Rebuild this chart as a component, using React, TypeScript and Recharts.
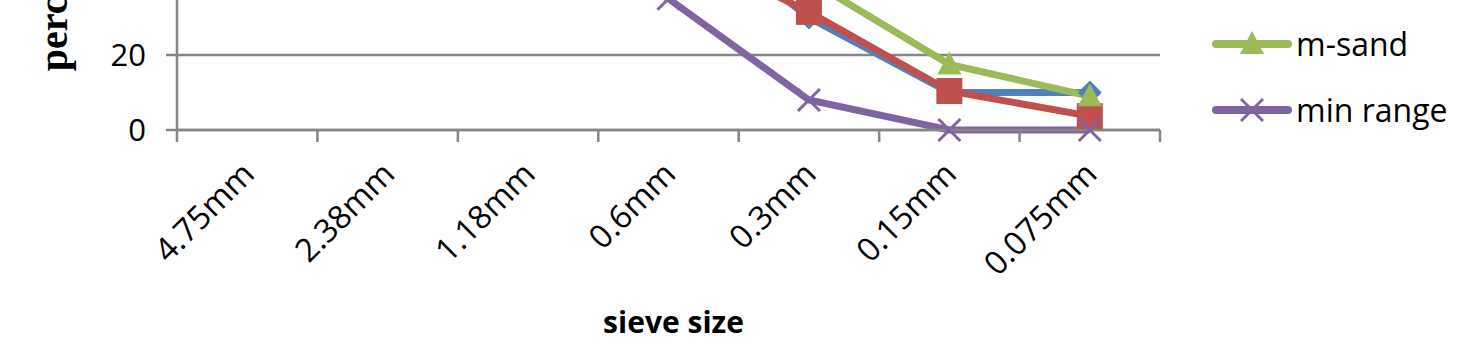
import React from 'react';
import { LineChart, Line, XAxis, YAxis, CartesianGrid, Legend } from 'recharts';

const categories = ['4.75mm', '2.38mm', '1.18mm', '0.6mm', '0.3mm', '0.15mm', '0.075mm'];
const maxRange = [100, 100, 90, 59, 30, 10, 10];
const riverSand = [100, 96, 78, 50, 31.5, 10.4, 3.7];
const mSand = [100, 97, 82, 62, 40, 17.5, 9];
const minRange = [90, 75, 55, 35, 8, 0, 0];
const yTicks = [0, 20, 40, 60, 80, 100, 120];

const seriesList = [
  { key: 'maxRange', name: 'max range', color: '#4F81BD', shape: 'diamond' },
  { key: 'riverSand', name: 'river sand', color: '#C0504D', shape: 'square' },
  { key: 'mSand', name: 'm-sand', color: '#9BBB59', shape: 'triangle' },
  { key: 'minRange', name: 'min range', color: '#8064A2', shape: 'x' },
];

const data = categories.map((name, i) => ({
  name,
  maxRange: maxRange[i],
  riverSand: riverSand[i],
  mSand: mSand[i],
  minRange: minRange[i],
}));

const W = 1481;
const H = 697;
const TOP_SHIFT = 340;
const MARGIN = { top: 20, right: 321, left: 0, bottom: 0 };
const Y_AXIS_W = 177;
const X_AXIS_H = 227;
const PLOT_W = W - MARGIN.left - MARGIN.right - Y_AXIS_W;
const BAND = PLOT_W / categories.length;
const GRAY = '#868686';
const FONT = '"Open Sans", "Liberation Sans", sans-serif';

function marker(shape: string, cx: number, cy: number, color: string, key?: string) {
  if (shape === 'diamond') {
    const s = 12;
    return <polygon key={key} points={`${cx},${cy - s} ${cx + s},${cy} ${cx},${cy + s} ${cx - s},${cy}`} fill={color} />;
  }
  if (shape === 'square') {
    const s = 13;
    return <rect key={key} x={cx - s} y={cy - s} width={2 * s} height={2 * s} fill={color} />;
  }
  if (shape === 'triangle') {
    const w = 12;
    return <polygon key={key} points={`${cx},${cy - 13} ${cx + w},${cy + 10} ${cx - w},${cy + 10}`} fill={color} />;
  }
  const s = 11;
  return (
    <g key={key}>
      <line x1={cx - s} y1={cy - s} x2={cx + s} y2={cy + s} stroke={color} strokeWidth={3} />
      <line x1={cx - s} y1={cy + s} x2={cx + s} y2={cy - s} stroke={color} strokeWidth={3} />
    </g>
  );
}

const makeDot = (shape: string, color: string) => (props: any) => {
  const { cx, cy, index } = props;
  if (cx == null || cy == null) return <g key={`d-${index}`} />;
  return marker(shape, cx, cy, color, `d-${shape}-${index}`);
};

const XTick = (props: any) => {
  const { x, y, payload, index } = props;
  const isLast = index === categories.length - 1;
  return (
    <g>
      <line x1={x - BAND / 2} y1={y} x2={x - BAND / 2} y2={y + 12} stroke={GRAY} strokeWidth={2.5} />
      {isLast && <line x1={x + BAND / 2} y1={y} x2={x + BAND / 2} y2={y + 12} stroke={GRAY} strokeWidth={2.5} />}
      <text
        x={x + 9}
        y={y + 46}
        textAnchor="end"
        transform={`rotate(-45 ${x + 9} ${y + 46})`}
        fontFamily={FONT}
        fontSize={32.5}
        fill="#000"
      >
        {payload.value}
      </text>
    </g>
  );
};

const renderLegend = () => (
  <div style={{ display: 'flex', flexDirection: 'column' }}>
    {seriesList.map((s) => (
      <div key={s.key} style={{ height: 66, display: 'flex', alignItems: 'center' }}>
        <svg width={82} height={40} style={{ display: 'block' }}>
          <line x1={5} x2={77} y1={20} y2={20} stroke={s.color} strokeWidth={8} strokeLinecap="round" />
          {marker(s.shape, 41, 20, s.color)}
        </svg>
        <span style={{ fontFamily: FONT, fontSize: 32, lineHeight: 1, marginLeft: 3, color: '#000' }}>{s.name}</span>
      </div>
    ))}
  </div>
);

export default function App() {
  return (
    <div style={{ position: 'absolute', left: 0, top: 0, width: W, height: 357, overflow: 'hidden', background: '#fff' }}>
      <div style={{ position: 'absolute', left: 0, top: -TOP_SHIFT }}>
        <LineChart width={W} height={H} data={data} margin={MARGIN}>
          <CartesianGrid vertical={false} stroke={GRAY} strokeWidth={2.5} />
          <XAxis
            dataKey="name"
            height={X_AXIS_H}
            padding={{ left: BAND / 2, right: BAND / 2 }}
            axisLine={{ stroke: GRAY, strokeWidth: 2.5 }}
            tickLine={false}
            tickSize={0}
            tickMargin={0}
            interval={0}
            tick={<XTick />}
            label={{
              content: (lp: any) => {
                const vb = lp.viewBox || {};
                return (
                  <text
                    x={vb.x + vb.width / 2 + 5}
                    y={vb.y + 203}
                    textAnchor="middle"
                    fontFamily={FONT}
                    fontWeight="bold"
                    fontSize={30}
                    fill="#000"
                  >
                    sieve size
                  </text>
                );
              },
            }}
          />
          <YAxis
            width={Y_AXIS_W}
            domain={[0, 120]}
            ticks={yTicks}
            interval={0}
            axisLine={{ stroke: GRAY, strokeWidth: 2.5 }}
            tickLine={{ stroke: GRAY, strokeWidth: 2.5 }}
            tickSize={11}
            tickMargin={20}
            tick={{ fontFamily: FONT, fontSize: 31, fill: '#000' }}
            label={{
              content: (lp: any) => {
                const vb = lp.viewBox || {};
                const cx = 67;
                const cy = vb.y + vb.height / 2 + 5;
                return (
                  <text
                    x={cx}
                    y={cy}
                    textAnchor="middle"
                    transform={`rotate(-90 ${cx} ${cy})`}
                    fontFamily='"Liberation Serif", "Times New Roman", serif'
                    fontWeight="bold"
                    fontSize={40}
                    fill="#000"
                  >
                    percentage passing
                  </text>
                );
              },
            }}
          />
          <Legend
            layout="vertical"
            align="center"
            verticalAlign="middle"
            wrapperStyle={{ left: 1211, top: 219, width: 265 }}
            content={renderLegend}
          />
          {seriesList.map((s) => (
            <Line
              key={s.key}
              type="linear"
              dataKey={s.key}
              name={s.name}
              stroke={s.color}
              strokeWidth={7}
              dot={makeDot(s.shape, s.color)}
              activeDot={false}
              isAnimationActive={false}
            />
          ))}
        </LineChart>
      </div>
    </div>
  );
}
